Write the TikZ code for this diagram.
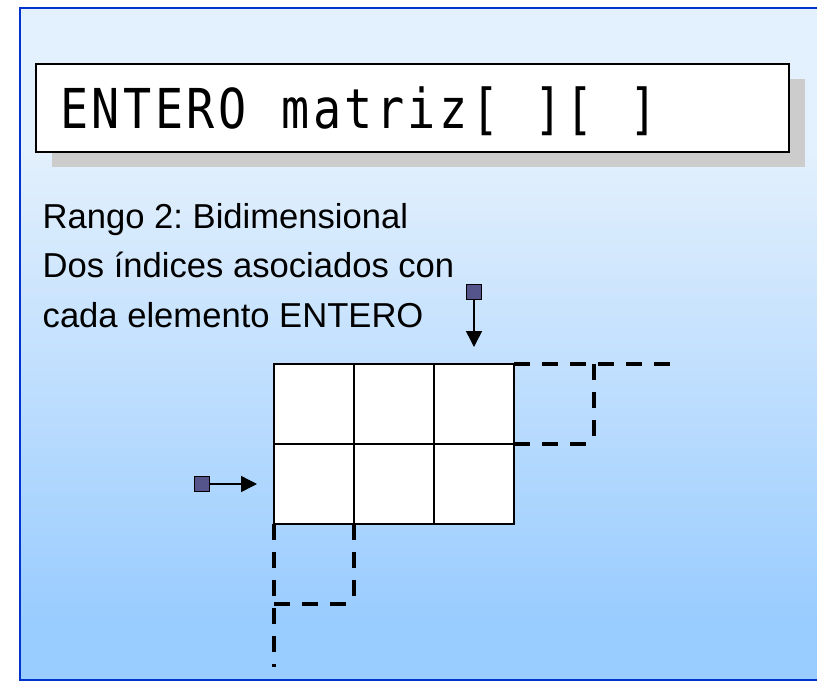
\documentclass[tikz,border=0pt]{standalone}
\usepackage{fontspec}
\setmainfont{Liberation Sans}
\newfontfamily\codefont[FakeStretch=0.85]{DejaVu Sans Mono}
\usetikzlibrary{arrows.meta,shadows}
\frenchspacing

\definecolor{bgtop}{RGB}{227,240,253}
\definecolor{bgbottom}{RGB}{153,204,255}
\definecolor{frameblue}{RGB}{0,51,204}
\definecolor{shadowgray}{RGB}{204,204,204}
\definecolor{idxfill}{RGB}{85,85,140}

% one fixed-width cell per character of the declaration
\newcommand\mc[1]{\makebox[31.6pt]{#1}}

\begin{document}
\begin{tikzpicture}[x=1pt,y=-1pt,
  frameline/.style={draw=frameblue,line width=2.2pt},
  titlebox/.style={draw,line width=2pt,fill=white,
    minimum width=753pt,minimum height=88pt,
    inner xsep=22.6pt,inner ysep=0pt,text width=707.8pt,align=left,
    font=\codefont\fontsize{55}{60}\selectfont,
    text height=40pt,text depth=0pt,
    drop shadow={shadow xshift=16pt,shadow yshift=-15pt,
      fill=shadowgray,opacity=1}},
  bodytext/.style={anchor=base west,inner sep=0pt,
    font=\fontsize{34.6}{40}\selectfont},
  cell/.style={draw,fill=white,line width=2.2pt,minimum size=80pt,
    inner sep=0pt,outer sep=0pt},
  idx/.style={draw,fill=idxfill,line width=1.6pt,minimum size=15pt,
    inner sep=0pt},
  idxarrow/.style={line width=1.5pt,-{Triangle[width=16pt,length=16pt]}},
  ext/.style={line width=3.3pt,dash pattern=on 16pt off 12pt}]

\useasboundingbox (0,0) rectangle (817,681);
\fill[white] (0,0) rectangle (817,681);

% background panel: horizontal bands, light at the top and deeper blue
% towards the bottom
\foreach \i in {0,...,167}{
  \pgfmathsetmacro\ytop{8+4*\i}
  \pgfmathsetmacro\ybot{min(680,\ytop+4.6)}
  \pgfmathtruncatemacro\mix{max(0,min(100,(\ytop+2-150)/470*100))}
  \fill[bgbottom!\mix!bgtop] (20,\ytop) rectangle (817,\ybot);
}
% border on the top, left and bottom sides
\draw[frameline] (18.9,8) -- (817,8);
\draw[frameline] (20,6.9) -- (20,681.1);
\draw[frameline] (18.9,680) -- (817,680);

% declaration
\node[titlebox] (title) at (412.5,108)
  {\mc{E}\mc{N}\mc{T}\mc{E}\mc{R}\mc{O}\mc{ }\mc{m}\mc{a}\mc{t}\mc{r}\mc{i}\mc{z}\mc{[}\mc{ }\mc{]}\mc{[}\mc{ }\mc{]}};

% description
\node[bodytext] (rango) at (42.5,228) {Rango 2: Bidimensional};
\node[bodytext] (dos) at (42.5,277) {Dos índices asociados con};
\node[bodytext] (cada) at (42.5,327) {cada elemento ENTERO};

% 2 x 3 array of cells
\node[cell] (c11) at (314,404) {};
\node[cell] (c12) at (394,404) {};
\node[cell] (c13) at (474,404) {};
\node[cell] (c21) at (314,484) {};
\node[cell] (c22) at (394,484) {};
\node[cell] (c23) at (474,484) {};

% extension of the array (more columns, more rows)
\coordinate (rtopend) at (670,364);
\coordinate (rtop) at (594,364);
\coordinate (rbot) at (594,444);
\coordinate (bleftend) at (274,667);
\coordinate (bleft) at (274,604);
\coordinate (bright) at (354,604);
\draw[ext] (c13.north east) -- (rtopend);
\draw[ext] (rtop) -- (rbot);
\draw[ext] (c23.north east) -- (rbot);
\draw[ext] (c21.south west) -- (bleftend);
\draw[ext] (c22.south west) -- (bright);
\draw[ext] (bleft) -- (bright);

% the two indices
\node[idx] (colidx) at (474,292) {};
\coordinate (coltip) at (474,347);
\draw[idxarrow] (colidx) -- (coltip);
\node[idx] (rowidx) at (202,484) {};
\coordinate (rowtip) at (257,484);
\draw[idxarrow] (rowidx) -- (rowtip);
\end{tikzpicture}
\end{document}
